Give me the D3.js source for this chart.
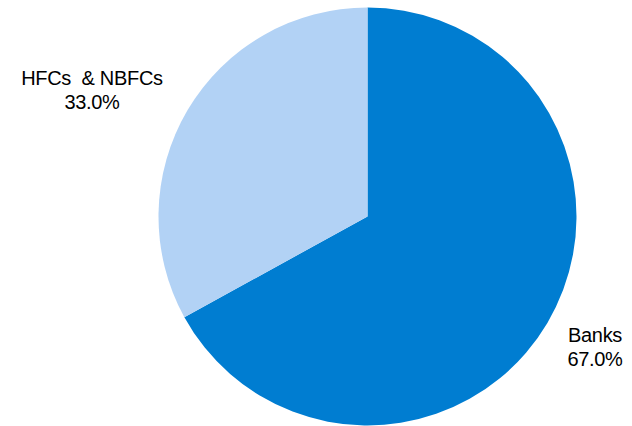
<!DOCTYPE html>
<html><head><meta charset="utf-8">
<script src="https://cdn.jsdelivr.net/npm/d3@7"></script>
<style>html,body{margin:0;padding:0;background:#fff;}svg{display:block;}</style>
</head><body>
<svg id="chart" width="632" height="426"></svg>
<script>
const categories = ["Banks", "HFCs & NBFCs"];
const values = [67.0, 33.0];
const colors = ["#007dd1", "#b2d2f5"];
const labelText = ["67.0%", "33.0%"];

const svg = d3.select("#chart");
const cx = 367.5, cy = 216.5, r = 209;
const g = svg.append("g").attr("transform", `translate(${cx},${cy})`);
const pie = d3.pie().sort(null).value(d => d)(values);
const arc = d3.arc().innerRadius(0).outerRadius(r);
g.selectAll("path").data(pie).enter().append("path")
  .attr("d", arc).attr("fill", (d, i) => colors[i]);

const labelPos = [[595, 342], [92, 85]];
categories.forEach((c, i) => {
  const t = svg.append("text").attr("text-anchor", "middle")
    .attr("font-family", "Liberation Sans, Arial, sans-serif")
    .attr("font-size", 20).attr("letter-spacing", -0.3).attr("fill", "#000");
  t.append("tspan").attr("x", labelPos[i][0]).attr("y", labelPos[i][1]).text(c.replace(" & ", "\u00a0 &\u00a0"));
  t.append("tspan").attr("x", labelPos[i][0]).attr("y", labelPos[i][1] + 24).text(labelText[i]);
});
</script>
</body></html>
